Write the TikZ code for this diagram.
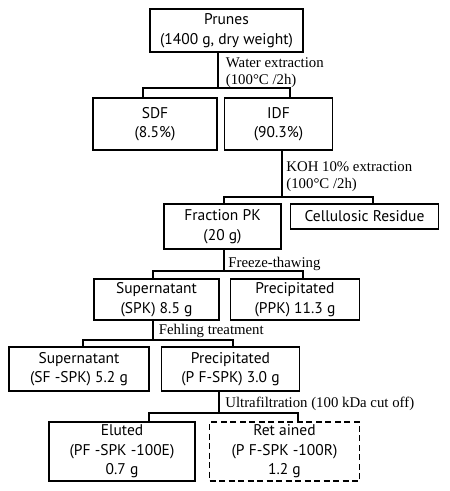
\documentclass[tikz,border=0pt]{standalone}
\usepackage{fontspec}
\setmainfont{Liberation Serif}
\setsansfont{PT Sans}
\usetikzlibrary{positioning}

\begin{document}
\begin{tikzpicture}[x=1pt, y=-1pt, thick]
    % Styles
    \tikzstyle{block} = [rectangle, draw, line width=1.5pt, align=center, inner sep=0pt, font=\sffamily\fontsize{15.5}{19.5}\selectfont]
    \tikzstyle{note} = [anchor=north west, align=left, inner sep=0pt, font=\fontsize{14.8}{17}\selectfont]
    \tikzstyle{link} = [line width=1.2pt]

    \useasboundingbox (0,0) rectangle (450,491);

    % Starting material
    \node (Prunes) [block, minimum width=153pt, minimum height=43pt] at (226.5,30.5) {Prunes\\(1400 g, dry weight)};

    % Water extraction
    \node (SDF) [block, minimum width=124pt, minimum height=52pt] at (155,124) {SDF\\(8.5\%)};
    \node (IDF) [block, minimum width=108pt, minimum height=52pt, right=6pt of SDF] {IDF\\(90.3\%)};

    % Alkaline extraction
    \node (FracPK) [block, minimum width=117pt, minimum height=45pt] at (222.5,226.5) {Fraction PK\\(20 g)};
    \node (Residue) [block, minimum width=148pt, minimum height=25pt, anchor=north west] at ([xshift=8pt]FracPK.north east) {Cellulosic Residue};

    % Freeze-thawing
    \node (SPK) [block, minimum width=125pt, minimum height=41pt] at (156.5,299.5) {Supernatant\\(SPK) 8.5 g};
    \node (PPK) [block, minimum width=129pt, minimum height=41pt, right=10pt of SPK] {Precipitated\\(PPK) 11.3 g};

    % Fehling treatment
    \node (SFSPK) [block, minimum width=140pt, minimum height=44pt] at (79,369) {Supernatant\\(SF -SPK) 5.2 g};
    \node (PFSPK) [block, minimum width=138pt, minimum height=44pt, right=11pt of SFSPK] {Precipitated\\(P F-SPK) 3.0 g};

    % Ultrafiltration
    \node (Eluted) [block, minimum width=146pt, minimum height=59pt] at (122,451.5) {Eluted\\(PF -SPK -100E)\\0.7 g};
    \node (Retained) [block, dashed, dash pattern=on 6pt off 3.5pt, minimum width=150pt, minimum height=59pt, right=13pt of Eluted] {Ret ained\\(P F-SPK -100R)\\1.2 g};

    % Branch points
    \coordinate (W) at (218,88);  \coordinate (WL) at (143,88);  \coordinate (WR) at (290,88);
    \coordinate (K) at (282,197); \coordinate (KL) at (224,197); \coordinate (KR) at (373,197);
    \coordinate (F) at (224,271); \coordinate (FL) at (153,271); \coordinate (FR) at (303,271);
    \coordinate (H) at (153,340); \coordinate (HL) at (83,340);  \coordinate (HR) at (233,340);
    \coordinate (U) at (219,413); \coordinate (UL) at (149,413); \coordinate (UR) at (298,413);

    % Connectors
    \draw [link] (Prunes.south -| W) -- (W);
    \draw [link] (SDF.north -| WL) -- (WL) -- (WR) -- (IDF.north -| WR);
    \draw [link] (IDF.south -| K) -- (K);
    \draw [link] (FracPK.north -| KL) -- (KL) -- (KR) -- (Residue.north -| KR);
    \draw [link] (FracPK.south -| F) -- (F);
    \draw [link] (SPK.north -| FL) -- (FL) -- (FR) -- (PPK.north -| FR);
    \draw [link] (SPK.south -| H) -- (H);
    \draw [link] (SFSPK.north -| HL) -- (HL) -- (HR) -- (PFSPK.north -| HR);
    \draw [link] (PFSPK.south -| U) -- (U);
    \draw [link] (Eluted.north -| UL) -- (UL) -- (UR) -- (Retained.north -| UR);

    % Step labels
    \node (WaterLbl) [note] at (225.5,57) {Water extraction\\(100°C /2h)};
    \node (KOHLbl) [note] at (286,161.5) {KOH 10\% extraction\\(100°C /2h)};
    \node (FreezeLbl) [note] at (228,256.5) {Freeze-thawing};
    \node (FehlingLbl) [note] at (158.5,323.5) {Fehling treatment};
    \node (UltraLbl) [note] at (225,397) {Ultrafiltration (100 kDa cut off)};

\end{tikzpicture}
\end{document}
